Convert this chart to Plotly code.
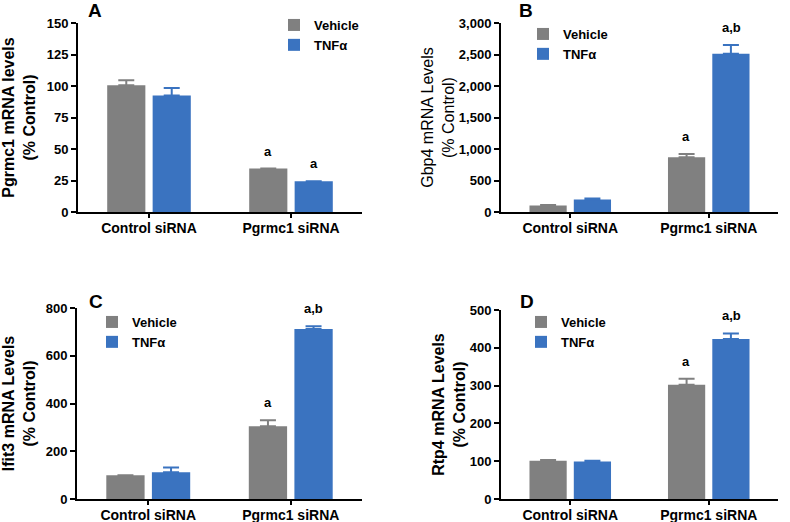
import plotly.graph_objects as go

groups = ["Control siRNA", "Pgrmc1 siRNA"]
treatments = ["Vehicle", "TNFα"]
colors = ["#808080", "#3a73c0"]

# Panel A: Pgrmc1
a_vehicle = [100.5, 34.5]
a_vehicle_err = [4.0, 0.0]
a_tnf = [92.5, 24.5]
a_tnf_err = [6.0, 0.0]
a_labels_vehicle = ["", "a"]
a_labels_tnf = ["", "a"]

# Panel B: Gbp4
b_vehicle = [105, 870]
b_vehicle_err = [5, 50]
b_tnf = [200, 2510]
b_tnf_err = [15, 140]
b_labels_vehicle = ["", "a"]
b_labels_tnf = ["", "a,b"]

# Panel C: Ifit3
c_vehicle = [100, 305]
c_vehicle_err = [0, 25]
c_tnf = [112, 712]
c_tnf_err = [20, 12]
c_labels_vehicle = ["", "a"]
c_labels_tnf = ["", "a,b"]

# Panel D: Rtp4
d_vehicle = [101, 302]
d_vehicle_err = [2, 16]
d_tnf = [99, 423]
d_tnf_err = [2, 15]
d_labels_vehicle = ["", "a"]
d_labels_tnf = ["", "a,b"]

y_titles = ["<b>Pgrmc1 mRNA levels<br>(% Control)</b>",
            "Gbp4 mRNA Levels<br>(% Control)",
            "<b>Ifit3 mRNA Levels<br>(% Control)</b>",
            "<b>Rtp4 mRNA Levels<br>(% Control)</b>"]
y_ranges = [[0, 150], [0, 3000], [0, 800], [0, 500]]
y_dticks = [25, 500, 200, 100]
panel_letters = ["A", "B", "C", "D"]

panels = [
    (a_vehicle, a_vehicle_err, a_tnf, a_tnf_err, a_labels_vehicle, a_labels_tnf),
    (b_vehicle, b_vehicle_err, b_tnf, b_tnf_err, b_labels_vehicle, b_labels_tnf),
    (c_vehicle, c_vehicle_err, c_tnf, c_tnf_err, c_labels_vehicle, c_labels_tnf),
    (d_vehicle, d_vehicle_err, d_tnf, d_tnf_err, d_labels_vehicle, d_labels_tnf),
]

W, H = 790, 522
# pixel domains (left, right, top, bottom)
dom_px = [(78, 362, 23, 212), (501, 778, 23, 212), (77, 362, 308, 499), (501, 778, 310, 499)]
legend_px = [(274, 10), (523, 19), (92, 307), (521, 307)]
letter_px = [(95, 10), (526, 10), (96, 301), (527, 301)]
title_standoff = [22, 0, 19, 0]

FONT = "Liberation Sans, Arial, sans-serif"


def px_x(v):
    return v / W


def px_y(v):
    return 1 - v / H


fig = go.Figure()
annotations = []
layout = dict(
    width=W, height=H, margin=dict(l=0, r=0, t=0, b=0, autoexpand=False),
    paper_bgcolor="white", plot_bgcolor="white",
    barmode="group", bargap=0.36, bargroupgap=0.16,
    font=dict(family=FONT, color="black"),
)

for i, (veh, veh_err, tnf, tnf_err, lab_v, lab_t) in enumerate(panels):
    n = "" if i == 0 else str(i + 1)
    xa, ya = "x" + n, "y" + n
    leg = "legend" + n
    for j, (vals, errs, name) in enumerate([(veh, veh_err, treatments[0]), (tnf, tnf_err, treatments[1])]):
        fig.add_trace(go.Bar(
            x=groups, y=vals, name=name, marker=dict(color=colors[j], line=dict(width=0)),
            error_y=dict(type="data", array=errs, arrayminus=[0] * len(errs), symmetric=False,
                         color=colors[j], thickness=2, width=8),
            xaxis=xa, yaxis=ya, legend=leg, offsetgroup=str(j),
        ))
    for j, (vals, errs, labs) in enumerate([(veh, veh_err, lab_v), (tnf, tnf_err, lab_t)]):
        for g, v, e, t in zip(groups, vals, errs, labs):
            if t:
                annotations.append(dict(
                    x=g, y=v + e, xref=xa, yref=ya, text=t, showarrow=False,
                    xshift=(-23 if j == 0 else 23), yshift=8, yanchor="bottom",
                    font=dict(size=13, family=FONT, color="black", weight="bold")))
    l, r, t, b = dom_px[i]
    layout["xaxis" + n] = dict(
        domain=[px_x(l), px_x(r)], anchor=ya, showline=True, linecolor="black", linewidth=2,
        ticks="outside", ticklen=4, tickwidth=2, tickcolor="black", automargin=False,
        ticklabelstandoff=-2,
        tickfont=dict(size=14, family=FONT, weight="bold"), showgrid=False, zeroline=False)
    layout["yaxis" + n] = dict(
        domain=[px_y(b), px_y(t)], anchor=xa, range=y_ranges[i], dtick=y_dticks[i],
        showline=True, linecolor="black", linewidth=2, ticks="outside", ticklen=5,
        tickwidth=2, tickcolor="black", showgrid=False, zeroline=False, automargin=False,
        tickformat=",d", tickfont=dict(size=13, family=FONT, weight="bold"),
        title=dict(text=y_titles[i], font=dict(size=16, family=FONT), standoff=title_standoff[i]))
    lx, ly = legend_px[i]
    layout[leg] = dict(x=px_x(lx), y=px_y(ly), xanchor="left", yanchor="top",
                       bgcolor="rgba(0,0,0,0)", font=dict(size=13, family=FONT, weight="bold"),
                       tracegroupgap=0, itemwidth=30)
    ax_, ay_ = letter_px[i]
    annotations.append(dict(x=px_x(ax_), y=px_y(ay_), xref="paper", yref="paper",
                            text=panel_letters[i], showarrow=False,
                            xanchor="center", yanchor="middle",
                            font=dict(size=19, family=FONT, color="black", weight="bold")))

layout["annotations"] = annotations
fig.update_layout(**layout)
# remove the default 8px page margin so the figure fills the window exactly
fig.write_html("out.html", config={"displayModeBar": False},
               post_script="document.body.style.margin='0';")
